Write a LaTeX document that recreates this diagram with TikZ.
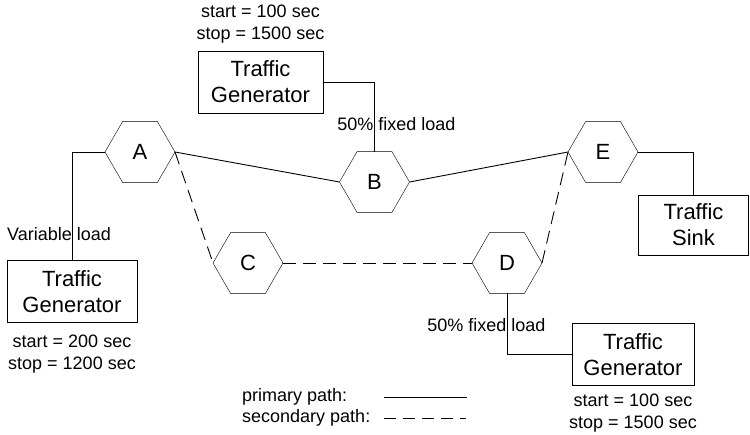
\documentclass[tikz,border=0pt]{standalone}
\usepackage{fontspec}
\setmainfont{Liberation Sans}
\usetikzlibrary{shapes.geometric}

\begin{document}
\begin{tikzpicture}[x=1pt,y=-1pt,
  router/.style={draw,regular polygon,regular polygon sides=6,minimum size=70pt,inner sep=0pt,outer sep=0pt,font=\fontsize{22}{26}\selectfont},
  tgen/.style={draw,rectangle,minimum width=125pt,minimum height=62pt,align=center,inner sep=0pt,outer sep=0pt,font=\fontsize{22}{26}\selectfont},
  note/.style={align=center,inner sep=0pt,font=\fontsize{18}{22}\selectfont},
  link/.style={line width=0.9pt},
  backup/.style={line width=0.9pt,dash pattern=on 13pt off 7pt},
  feed/.style={line width=0.8pt}]
\useasboundingbox (0,0) rectangle (750,434);

% routers
\node[router] (A) at (140,152) {A};
\node[router] (B) at (374.5,182) {B};
\node[router] (C) at (248,263) {C};
\node[router] (D) at (507,263) {D};
\node[router] (E) at (603,152) {E};

% sources and sink
\node[tgen] (gtop) at (260.5,82) {Traffic\\Generator};
\node[tgen,minimum width=130pt] (gleft) at (72,291.5) {Traffic\\Generator};
\node[tgen,minimum width=122pt] (gbot) at (633,354.5) {Traffic\\Generator};
\node[tgen,minimum width=110pt,minimum height=60pt] (sink) at (693.5,225) {Traffic\\Sink};

% labels
\node[note] (ttop) at (260.5,24) {start = 100 sec\\stop = 1500 sec};
\node[note] (tleft) at (72,354) {start = 200 sec\\stop = 1200 sec};
\node[note] (tbot) at (633,413) {start = 100 sec\\stop = 1500 sec};
\node[note] (ltop) at (396.5,124) {50\% fixed load};
\node[note] (lbot) at (486.5,325) {50\% fixed load};
\node[note] (lvar) at (59,234) {Variable load};

% paths
\draw[link] (A.east) -- (B.west);
\draw[link] (B.east) -- (E.west);
\draw[backup] (A.east) -- (C.west);
\draw[backup] (C.east) -- (D.west);
\draw[backup] (D.east) -- (E.west);

% feeds
\draw[feed] (gtop.east) -| (B.north);
\draw[feed] (gleft.north) |- (A.west);
\draw[feed] (D.south) |- (gbot.west);
\draw[feed] (E.east) -| (sink.north);

% legend
\node[note,anchor=west] (kprim) at (242,397) {primary path:};
\node[note,anchor=west] (ksec) at (242,418) {secondary path:};
\coordinate (p1) at (384,397);
\coordinate (p2) at (467,397);
\coordinate (s1) at (384,418);
\coordinate (s2) at (466,418);
\draw[link] (p1) -- (p2);
\draw[backup,dash pattern=on 12pt off 7pt] (s1) -- (s2);
\end{tikzpicture}
\end{document}
